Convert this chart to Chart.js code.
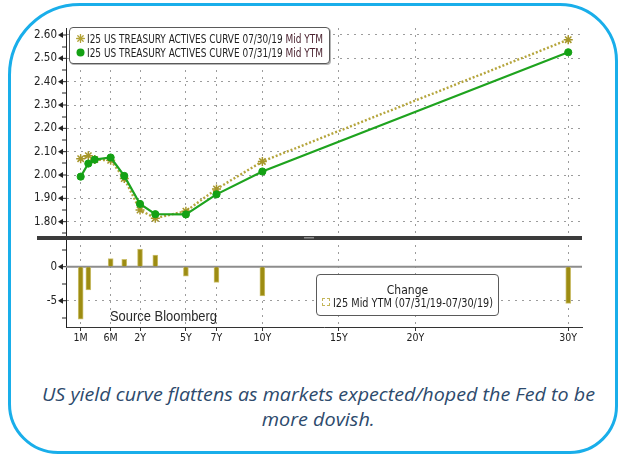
<!DOCTYPE html>
<html>
<head>
<meta charset="utf-8">
<script src="https://cdn.jsdelivr.net/npm/chart.js@4.4.1/dist/chart.umd.min.js"></script>
<style>
  html, body { margin: 0; padding: 0; background: #fff; }
  body { width: 619px; height: 455px; position: relative; overflow: hidden; font-family: 'Liberation Sans', Arial, sans-serif; }
  #frame { position: absolute; left: 8px; top: 3px; width: 610px; height: 451px; box-sizing: border-box;
           border: 3px solid #19aeea; border-radius: 72px 58px 48px 50px; pointer-events: none; }
  #wrap { position: absolute; left: 0; top: 0; width: 619px; height: 350px; }
  .fit { display: inline-block; white-space: nowrap; transform-origin: 0 50%; }
  .bbg { font-family: 'Liberation Sans Narrow', 'DejaVu Sans Condensed', 'Liberation Sans', sans-serif; color: #1e1e1e; }
  #legendTop { position: absolute; left: 69px; top: 27px; width: 261px; height: 37px; box-sizing: border-box;
               border: 1px solid #5a5a5a; border-radius: 4px; background: #fff; box-shadow: 1px 1px 0 #b5b5b5; }
  .lrow { position: absolute; left: 0; height: 14px; line-height: 14px; font-size: 12px; }
  .lrow .mk { position: absolute; top: 2px; }
  .lrow .fit { position: absolute; left: 17px; top: 0; }
  .mid { color: #4b2330; }
  #legendChg { position: absolute; left: 316px; top: 274px; width: 183px; height: 42px; box-sizing: border-box;
               border: 1px solid #5a5a5a; border-radius: 4px; background: #fff; }
  #chgTitle { position: absolute; top: 8px; left: 0; width: 181px; text-align: center; font-size: 12px; line-height: 14px; }
  #chgIcon { position: absolute; left: 5px; top: 23px; width: 8px; height: 8px; box-sizing: border-box; border: 1px dashed #c4b65a; }
  #chgText { position: absolute; left: 16px; top: 21px; font-size: 12px; line-height: 14px; }
  #source { position: absolute; left: 110px; top: 307px; font-size: 14px; line-height: 18px; color: #2a2a2a; }
  #caption { position: absolute; left: 0; width: 619px; top: 382px;
             font-family: 'Open Sans', Lato, sans-serif; font-style: italic; font-size: 18px; line-height: 25px; color: #2d4a6c; }
  #caption .fit { position: absolute; transform-origin: 50% 50%; }
</style>
</head>
<body>
<div id="wrap"><canvas id="chart" width="619" height="350"></canvas></div>

<div id="legendTop" class="bbg">
  <div class="lrow" style="top:4px; width:259px;">
    <svg class="mk" style="left:6px" width="9" height="9" viewBox="0 0 9 9">
      <g stroke="#b3a336" stroke-width="1.3" stroke-linecap="round">
        <line x1="4.5" y1="0.6" x2="4.5" y2="8.4"/><line x1="0.6" y1="4.5" x2="8.4" y2="4.5"/>
        <line x1="1.8" y1="1.8" x2="7.2" y2="7.2"/><line x1="7.2" y1="1.8" x2="1.8" y2="7.2"/>
      </g>
    </svg>
    <span class="fit" data-w="236" id="lab1"></span>
  </div>
  <div class="lrow" style="top:18px; width:259px;">
    <svg class="mk" style="left:6px" width="9" height="9" viewBox="0 0 9 9"><circle cx="4.5" cy="4.5" r="4" fill="#14a114"/></svg>
    <span class="fit" data-w="236" id="lab2"></span>
  </div>
</div>

<div id="legendChg" class="bbg">
  <div id="chgTitle">Change</div>
  <div id="chgIcon"></div>
  <span id="chgText" class="fit" data-w="160">I25 Mid YTM (07/31/19-07/30/19)</span>
</div>

<span id="source" class="fit" data-w="107">Source Bloomberg</span>

<div id="caption">
  <span class="fit" data-w="553" data-cx="318" style="top:0">US yield curve flattens as markets expected/hoped the Fed to be</span>
  <span class="fit" data-w="113" data-cx="318" style="top:25px">more dovish.</span>
</div>

<div id="frame"></div>

<script>
// Curve tenors and their position on the maturity axis
// (short end is stretched, 2Y onwards is linear in years)
const tenors  = ['1M', '2M', '3M', '6M', '1Y', '2Y', '3Y', '5Y', '7Y', '10Y', '30Y'];
const axisPos = [-1.88, -1.38, -0.96, 0.08, 0.97, 2, 3, 5, 7, 10, 30];

// Mid YTM (%) for each curve date
const ytm0730 = [2.070, 2.083, 2.066, 2.063, 1.985, 1.850, 1.815, 1.845, 1.940, 2.058, 2.580];
const ytm0731 = [1.993, 2.049, 2.066, 2.075, 1.996, 1.876, 1.832, 1.831, 1.917, 2.015, 2.526];

// Change 07/31/19 - 07/30/19, basis points
const changeBp = [-7.7, -3.4, 0.0, 1.2, 1.1, 2.6, 1.7, -1.4, -2.3, -4.3, -5.4];

// Axis ticks
const xTickLabels = ['1M', '6M', '2Y', '5Y', '7Y', '10Y', '15Y', '20Y', '30Y'];
const xTickPos    = [-1.88, 0.08, 2, 5, 7, 10, 15, 20, 30];
const yieldTicks  = [1.80, 1.90, 2.00, 2.10, 2.20, 2.30, 2.40, 2.50, 2.60];
const yieldMinor  = [1.75, 1.85, 1.95, 2.05, 2.15, 2.25, 2.35, 2.45, 2.55];
const changeTicks = [-5, 0];
const changeMinor = [-7.5, -2.5, 2.5];

const seriesLabels = ['I25 US TREASURY ACTIVES CURVE 07/30/19', 'I25 US TREASURY ACTIVES CURVE 07/31/19'];

document.getElementById('lab1').innerHTML = seriesLabels[0] + ' <span class="mid">Mid YTM</span>';
document.getElementById('lab2').innerHTML = seriesLabels[1] + ' <span class="mid">Mid YTM</span>';

// squeeze labels to their box widths (Bloomberg's condensed face)
document.querySelectorAll('.fit').forEach(el => {
  const target = parseFloat(el.dataset.w);
  const natural = el.getBoundingClientRect().width;
  if (el.dataset.cx) el.style.left = (parseFloat(el.dataset.cx) - natural / 2) + 'px';
  if (natural > 0) el.style.transform = 'scaleX(' + (target / natural) + ')';
});

const tickFamily = "'Liberation Sans Narrow', 'DejaVu Sans Condensed', 'Liberation Sans', sans-serif";
const AXIS_W = 66;

const toPoints = vals => tenors.map((t, i) => ({ x: axisPos[i], y: vals[i] }));

// Bloomberg-style axis furniture: zero line, panel divider, arrow ticks
const panelDecor = {
  id: 'panelDecor',
  beforeDatasetsDraw(chart) {
    const { ctx, chartArea, scales } = chart;
    const y0 = scales.yChange.getPixelForValue(0);
    ctx.save();
    ctx.strokeStyle = '#8d8d8d';
    ctx.lineWidth = 2;
    ctx.beginPath();
    ctx.moveTo(chartArea.left, y0);
    ctx.lineTo(chartArea.right, y0);
    ctx.stroke();
    ctx.restore();
  },
  afterDraw(chart) {
    const { ctx, chartArea, scales } = chart;
    const ax = chartArea.left;
    ctx.save();
    ctx.fillStyle = '#222';
    ctx.lineWidth = 1;
    const major = py => {
      ctx.beginPath();
      ctx.moveTo(ax - 8, py);
      ctx.lineTo(ax - 3, py - 3);
      ctx.lineTo(ax - 3, py + 3);
      ctx.closePath();
      ctx.fill();
      ctx.fillRect(ax - 3, py - 0.5, 3, 1);
    };
    const minor = py => { ctx.fillRect(ax - 4, Math.round(py) - 0.5, 4, 1); };
    yieldTicks.forEach(v => major(scales.yYield.getPixelForValue(v)));
    yieldMinor.forEach(v => minor(scales.yYield.getPixelForValue(v)));
    changeTicks.forEach(v => major(scales.yChange.getPixelForValue(v)));
    changeMinor.forEach(v => minor(scales.yChange.getPixelForValue(v)));

    // divider between the yield and change panels
    const ys = scales.yYield.bottom;
    ctx.fillStyle = '#3b3b3b';
    ctx.fillRect(37, ys - 2, chartArea.right - 37, 4);
    ctx.fillStyle = '#8e8e8e';
    ctx.fillRect(304, ys - 1, 10, 1.5);
    ctx.restore();
  }
};

new Chart(document.getElementById('chart'), {
  type: 'line',
  data: {
    datasets: [
      {
        label: seriesLabels[1] + ' Mid YTM',
        data: toPoints(ytm0731),
        xAxisID: 'x', yAxisID: 'yYield',
        borderColor: '#1ea31e', borderWidth: 2.2,
        pointRadius: 3.6, pointBackgroundColor: '#14a114', pointBorderColor: '#14a114', pointBorderWidth: 1,
        tension: 0, order: 1
      },
      {
        label: seriesLabels[0] + ' Mid YTM',
        data: toPoints(ytm0730),
        xAxisID: 'x', yAxisID: 'yYield',
        borderColor: '#b5a53c', borderWidth: 2.4, borderDash: [2, 2],
        pointStyle: 'star', pointRadius: 4.5, pointBorderColor: '#a6962a', pointBackgroundColor: '#a6962a', pointBorderWidth: 1.5,
        tension: 0, order: 2
      },
      {
        type: 'bar',
        label: 'I25 Mid YTM (07/31/19-07/30/19)',
        data: toPoints(changeBp),
        xAxisID: 'x', yAxisID: 'yChange',
        backgroundColor: '#9d8c12', borderColor: '#cdc170', borderWidth: 1,
        barThickness: 5, order: 3
      }
    ]
  },
  options: {
    responsive: false,
    animation: false,
    devicePixelRatio: 1,
    layout: { padding: { left: 0, right: 37, top: 28, bottom: 2 } },
    plugins: { legend: { display: false }, tooltip: { enabled: false } },
    scales: {
      x: {
        type: 'linear', position: 'bottom', min: -2.84, max: 30.9, offset: false,
        afterBuildTicks: s => { s.ticks = xTickPos.map(v => ({ value: v })); },
        afterFit: s => { s.height = 21; },
        ticks: { callback: (v, i) => xTickLabels[i], font: { family: tickFamily, size: 10.5 }, color: '#222',
                 padding: 1, maxRotation: 0, autoSkip: false },
        grid: { offset: false, color: '#9c9c9c', lineWidth: 1, tickLength: 4, tickColor: '#333', tickWidth: 1 },
        border: { color: '#333', width: 1, dash: [2, 5] }
      },
      yYield: {
        type: 'linear', position: 'left', stack: 'panels', stackWeight: 210, weight: 2,
        min: 1.73, max: 2.63,
        afterBuildTicks: s => { s.ticks = yieldTicks.map(v => ({ value: v })); },
        afterFit: s => { s.width = AXIS_W; },
        ticks: { callback: v => v.toFixed(2), font: { family: tickFamily, size: 11.5 }, color: '#222', padding: 0, autoSkip: false },
        grid: { color: '#9c9c9c', lineWidth: 1, tickLength: 9, tickColor: 'transparent' },
        border: { color: '#222', width: 1, dash: [2, 5] }
      },
      yChange: {
        type: 'linear', position: 'left', stack: 'panels', stackWeight: 89, weight: 1,
        min: -8.87, max: 4.22,
        afterBuildTicks: s => { s.ticks = changeTicks.map(v => ({ value: v })); },
        afterFit: s => { s.width = AXIS_W; },
        ticks: { callback: v => String(v), font: { family: tickFamily, size: 11.5 }, color: '#222', padding: 0, autoSkip: false },
        grid: { color: c => (c.tick && c.tick.value === 0 ? 'transparent' : '#9c9c9c'), lineWidth: 1,
                tickLength: 9, tickColor: 'transparent' },
        border: { color: '#222', width: 1, dash: [2, 5] }
      }
    }
  },
  plugins: [panelDecor]
});
</script>
</body>
</html>
